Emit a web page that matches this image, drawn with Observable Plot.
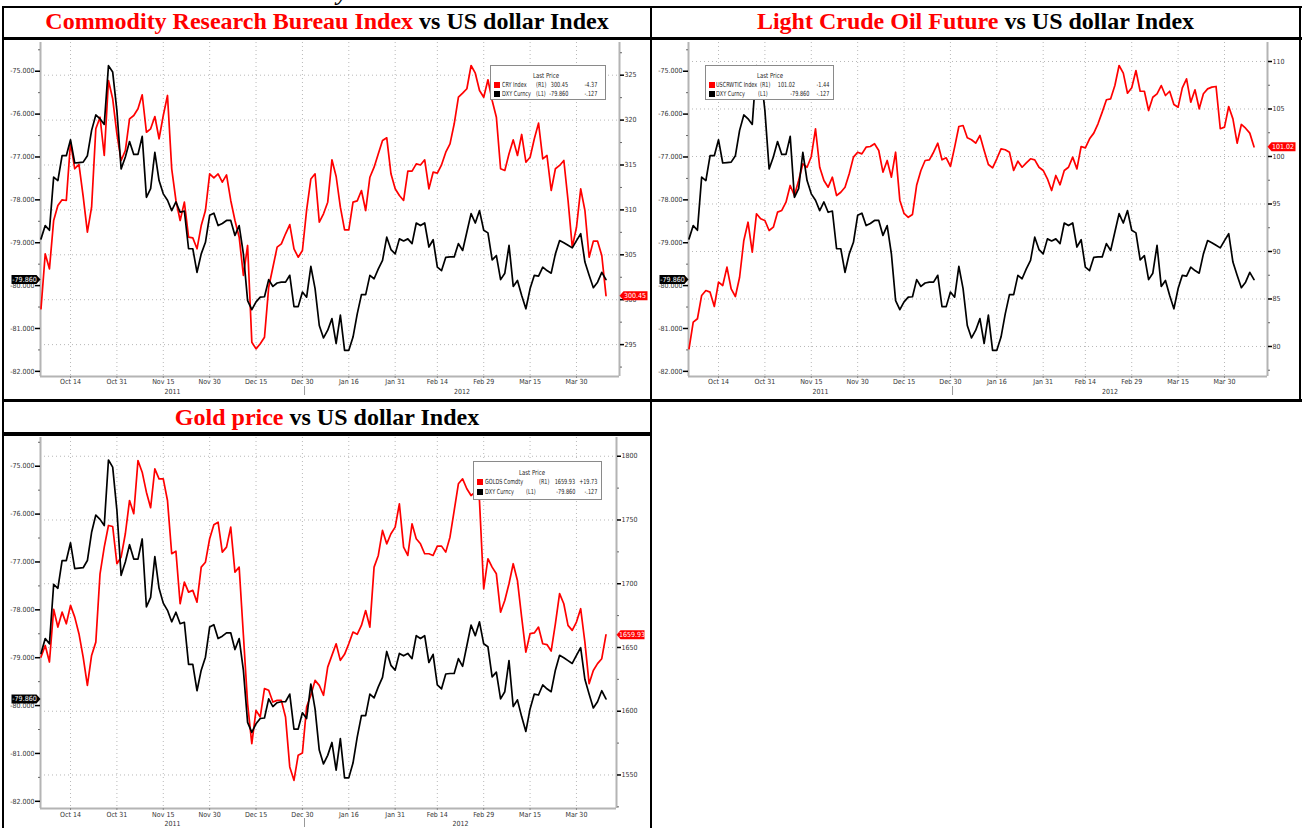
<!DOCTYPE html>
<html><head><meta charset="utf-8">
<script src="https://cdn.jsdelivr.net/npm/d3@7"></script>
<script src="https://cdn.jsdelivr.net/npm/@observablehq/plot@0.6"></script>
<style>
body{margin:0;background:#fff;}
#page{position:relative;width:1305px;height:828px;overflow:hidden;background:#fff;}
.ln{position:absolute;background:#000;}
.title{position:absolute;font-family:"Liberation Serif","Times New Roman",serif;font-weight:bold;font-size:24px;line-height:24px;text-align:center;white-space:nowrap;color:#000;}
.title .r{color:#ff0000;}
.chart{position:absolute;}
.chart svg{overflow:visible;}
.legend{position:absolute;background:#fff;border:1px solid #8a8a8a;box-sizing:border-box;font-family:"Liberation Sans Narrow","DejaVu Sans Condensed",sans-serif;font-size:7px;color:#222;}
.legend span{position:absolute;white-space:nowrap;line-height:8px;}
.legend i{position:absolute;width:6px;height:6px;}
#frag{position:absolute;left:0;top:0;width:1305px;height:6px;overflow:hidden;}
#frag div{position:absolute;left:337px;top:-20px;font-family:"Liberation Serif",serif;font-weight:bold;font-style:italic;font-size:24px;line-height:24px;}
</style></head>
<body>
<div id="page">
  <div id="frag"><div>y</div></div>
  <div class="ln" style="left:2px;top:6px;width:1300px;height:2px"></div>
  <div class="ln" style="left:2px;top:37px;width:1300px;height:3px"></div>
  <div class="ln" style="left:2px;top:399px;width:1300px;height:3px"></div>
  <div class="ln" style="left:2px;top:432px;width:650px;height:4px"></div>
  <div class="ln" style="left:2px;top:6px;width:2px;height:822px"></div>
  <div class="ln" style="left:650px;top:6px;width:2px;height:822px"></div>
  <div class="ln" style="left:1299px;top:6px;width:2px;height:396px"></div>
  <div class="title" style="left:4px;width:646px;top:9px"><span class="r">Commodity Research Bureau Index</span> vs US dollar Index</div>
  <div class="title" style="left:652px;width:647px;top:9px"><span class="r">Light Crude Oil Future</span> vs US dollar Index</div>
  <div class="title" style="left:4px;width:646px;top:405px"><span class="r">Gold price</span> vs US dollar Index</div>
  <div class="chart" id="c1" style="left:4px;top:40px"></div>
  <div class="chart" id="c2" style="left:652px;top:40px"></div>
  <div class="chart" id="c3" style="left:4px;top:436px"></div>
</div>
<script>
// ---- data: DXY (shown negated, left axis), CRY, WTI, Gold (right axes), weekday index 0 = Oct 5 2011
const dxy = [
-78.91,-78.60,-78.71,-77.47,-77.55,-76.97,-76.97,-76.60,-77.14,-77.13,
-77.12,-76.97,-76.38,-76.02,-76.11,-76.24,-74.87,-75.02,-75.92,-77.28,
-77.00,-76.64,-76.94,-76.94,-76.52,-77.94,-77.74,-76.89,-77.55,-77.86,
-78.01,-78.25,-78.05,-78.29,-78.26,-79.14,-79.14,-79.69,-79.26,-78.99,
-78.36,-78.31,-78.60,-78.55,-78.48,-78.48,-78.83,-78.60,-79.26,-80.35,
-80.56,-80.38,-80.27,-80.26,-79.86,-80.02,-79.94,-79.92,-79.92,-79.76,
-80.49,-80.49,-80.15,-80.27,-79.55,-80.07,-80.93,-81.22,-81.04,-80.77,
-81.35,-80.69,-81.51,-81.51,-81.20,-80.66,-80.21,-80.21,-79.76,-79.84,
-79.61,-79.41,-78.87,-79.16,-79.26,-78.91,-78.96,-78.91,-79.02,-78.54,
-78.60,-78.54,-79.10,-78.93,-79.57,-79.65,-79.34,-79.33,-79.33,-79.02,
-79.18,-78.75,-78.32,-78.54,-78.25,-78.71,-78.77,-79.40,-79.30,-79.86,
-79.71,-79.06,-80.02,-79.88,-80.23,-80.54,-80.07,-79.76,-79.78,-79.57,
-79.65,-79.71,-79.26,-78.95,-79.00,-79.06,-79.12,-78.95,-78.79,-79.45,
-79.76,-80.05,-79.92,-79.69,-79.86];
const cry = [
298.99,305.10,303.44,308.82,310.49,311.12,311.05,317.54,314.58,315.06,
311.50,307.52,310.30,319.03,320.32,316.06,324.41,322.37,318.47,315.50,
316.61,320.14,320.51,321.26,322.82,318.65,319.03,320.40,317.92,320.51,
322.74,314.58,311.05,308.82,310.86,306.96,306.89,305.67,308.26,309.93,
314.02,313.57,314.00,313.09,313.90,311.05,308.82,306.96,302.70,306.04,
295.27,294.53,295.09,295.82,301.39,303.62,305.85,306.22,307.34,308.37,
305.67,304.73,305.48,310.00,313.45,314.02,308.63,309.57,310.86,315.58,
313.72,310.30,307.78,307.78,310.86,311.00,312.16,309.93,313.64,314.76,
316.25,317.73,318.03,314.02,312.35,311.60,311.05,314.31,314.31,315.13,
315.00,315.58,312.35,314.20,314.10,315.02,316.43,317.36,319.59,322.55,
323.00,323.49,326.08,325.22,323.30,322.55,324.49,322.18,320.32,314.58,
314.39,316.25,317.80,316.06,318.40,315.31,315.87,317.92,319.66,315.69,
316.06,312.16,314.58,314.95,315.50,311.05,305.85,308.07,312.35,309.93,
304.73,306.52,306.52,304.92,300.45];
const wti = [
79.76,82.56,82.92,85.37,85.89,85.72,84.21,86.77,86.42,88.35,
86.07,85.26,87.29,91.16,93.08,89.93,93.97,93.44,93.26,92.21,
92.56,94.14,94.32,95.19,96.95,95.89,97.47,99.23,98.87,100.00,
102.92,98.87,97.47,96.77,97.82,95.89,96.24,96.77,98.18,99.93,
100.45,100.28,100.98,101.05,101.34,100.63,98.35,99.58,97.82,100.45,
95.40,94.00,93.60,93.90,97.00,98.53,99.58,99.65,100.45,101.40,
99.65,99.86,98.95,100.98,103.16,103.26,101.97,101.76,101.40,102.21,
100.63,99.16,98.81,99.76,100.81,100.71,100.45,98.53,99.51,98.87,
99.33,99.76,99.65,98.87,98.53,97.65,96.42,98.00,97.02,98.53,
98.87,99.93,98.70,101.05,100.91,101.86,102.46,103.44,104.67,105.97,
106.07,107.47,109.58,108.77,106.66,107.23,109.05,106.87,106.87,104.84,
106.24,106.60,107.47,106.42,106.87,105.47,105.19,107.23,108.18,105.72,
107.02,105.02,106.60,107.12,107.30,107.37,102.92,103.09,105.26,103.96,
101.40,103.37,102.98,102.46,101.02];
const gold = [
1642.5,1651.6,1638.6,1680.0,1666.0,1677.7,1668.6,1683.0,1673.8,1660.8,
1642.5,1620.3,1643.8,1654.2,1707.8,1728.7,1745.7,1744.9,1715.7,1720.9,
1739.2,1765.3,1754.9,1796.6,1787.5,1771.8,1759.6,1790.1,1782.3,1782.3,
1765.3,1723.5,1725.5,1684.3,1701.3,1693.4,1694.8,1685.6,1713.0,1716.9,
1735.3,1746.3,1748.3,1724.8,1728.7,1744.4,1709.1,1713.0,1660.0,1606.0,
1574.6,1600.7,1595.5,1617.7,1616.4,1607.2,1608.5,1608.5,1595.5,1556.3,
1545.8,1565.5,1567.2,1603.3,1612.5,1624.2,1620.3,1612.5,1634.6,1643.8,
1652.9,1639.9,1644.6,1652.9,1662.1,1660.3,1667.3,1679.0,1666.0,1713.0,
1722.2,1741.8,1731.3,1739.2,1744.4,1762.7,1728.7,1722.2,1747.0,1735.3,
1731.3,1723.5,1723.5,1722.2,1729.5,1729.5,1724.8,1736.5,1757.4,1778.4,
1782.3,1774.5,1769.2,1771.8,1765.3,1696.0,1719.6,1713.0,1707.8,1677.7,
1686.9,1700.0,1715.7,1702.6,1673.8,1646.4,1660.8,1661.4,1666.0,1652.9,
1652.3,1647.2,1668.6,1692.2,1684.3,1667.3,1663.4,1669.9,1680.4,1654.2,
1621.6,1632.0,1637.3,1641.2,1659.93];

const tickIdx = [7,18,29,40,51,62,73,84,94,105,116,127];
const tickLabels = ["Oct 14","Oct 31","Nov 15","Nov 30","Dec 15","Dec 30","Jan 16","Jan 31","Feb 14","Feb 29","Mar 15","Mar 30"];
const years = ["2011","2012"];
const yearBreak = 62.5;
const leftTicks = [-75,-76,-77,-78,-79,-80,-81,-82];
const cryTicks = [295,300,305,310,315,320,325];
const wtiTicks = [80,85,90,95,100,105,110];
const goldTicks = [1550,1600,1650,1700,1750,1800];

const legends = [
  {box:[490,65,116,35], head:55, rows:[
    {c:"#ff0000", t:[["CRY Index",11.5,"s"],["(R1)",46,"s"],["300.45",78,"e"],["-4.37",107,"e"]]},
    {c:"#000", t:[["DXY Curncy",11.5,"s"],["(L1)",46,"s"],["-79.860",78,"e"],["-.127",107,"e"]]}], ys:[10,18.5,27.5]},
  {box:[705,65,129,35], head:63.5, rows:[
    {c:"#ff0000", t:[["USCRWTIC Index",10.5,"s"],["(R1)",55,"s"],["101.02",90,"e"],["-1.44",124,"e"]]},
    {c:"#000", t:[["DXY Curncy",10.5,"s"],["(L1)",53,"s"],["-79.860",104,"e"],["-.127",124,"e"]]}], ys:[10,18.5,27.5]},
  {box:[473,461,129,39], head:58, rows:[
    {c:"#ff0000", t:[["GOLDS Comdty",11.5,"s"],["(R1)",66,"s"],["1659.93",102,"e"],["+19.73",124.5,"e"]]},
    {c:"#000", t:[["DXY Curncy",12,"s"],["(L1)",53,"s"],["-79.860",102,"e"],["-.127",124,"e"]]}], ys:[10.5,20,30]}
];

const FONT = "'Liberation Sans Narrow','DejaVu Sans Condensed',sans-serif";
const tagLeft = {draw(ctx){ctx.moveTo(0,0);ctx.lineTo(-4,-4.5);ctx.lineTo(-29,-4.5);ctx.lineTo(-29,4.5);ctx.lineTo(-4,4.5);ctx.closePath();}};
const tagRight = {draw(ctx){ctx.moveTo(0,0);ctx.lineTo(4,-4.5);ctx.lineTo(28,-4.5);ctx.lineTo(28,4.5);ctx.lineTo(4,4.5);ctx.closePath();}};

function makeChart(c){
  const xDom = [-0.12, c.xMax];
  const toL = d3.scaleLinear().domain(c.rDomain).range(c.lDomain);
  const pxPerUnit = (c.h - c.mt - c.mb) / (c.lDomain[1] - c.lDomain[0]);
  const bottom = c.lDomain[0];
  const dataL = dxy.map((v,i)=>({i, v}));
  const dataR = c.series.map((v,i)=>({i, v: toL(v)}));
  const step = c.rTicks[1]-c.rTicks[0];
  const minorR = c.rTicks.map(t=>t+step/2).concat([c.rTicks[0]-step/2]).filter(t=>t>c.rDomain[0]&&t<c.rDomain[1]);
  const minorL = leftTicks.map(t=>t+0.5).filter(t=>t<c.lDomain[1]&&t>c.lDomain[0]);
  const lastL = dxy[dxy.length-1];
  const lastR = c.series[c.series.length-1];
  const yearX = [(xDom[0]+yearBreak)/2, (yearBreak+xDom[1])/2];
  return Plot.plot({
    width:c.w, height:c.h, marginLeft:36, marginRight:c.mr, marginTop:c.mt, marginBottom:c.mb,
    x:{domain:xDom, axis:null},
    y:{domain:c.lDomain, axis:null},
    style:{fontFamily:FONT, fontSize:"7px", color:"#333", background:"transparent", overflow:"visible"},
    marks:[
      Plot.ruleX(tickIdx, {stroke:"#b8b8b8", strokeDasharray:"1,3"}),
      Plot.ruleY(c.rTicks.map(toL), {stroke:"#b8b8b8", strokeDasharray:"1,3"}),
      Plot.ruleX([xDom[0]], {stroke:"#b4b4b4", strokeWidth:2}),
      Plot.ruleX([xDom[1]], {stroke:"#b4b4b4", strokeWidth:2}),
      Plot.ruleY([bottom], {stroke:"#b4b4b4", strokeWidth:2}),
      Plot.axisY(leftTicks, {anchor:"left", tickSize:5, tickPadding:1, stroke:"#000", strokeWidth:1.5, tickFormat:d=>d.toFixed(3), label:null}),
      Plot.axisY(minorL, {anchor:"left", tickSize:2, tickFormat:()=>"", stroke:"#666", label:null}),
      Plot.axisY(c.rTicks.map(toL), {anchor:"right", tickSize:4, tickPadding:1, stroke:"#000", strokeWidth:1.5, tickFormat:d=>String(Math.round(toL.invert(d))), label:null}),
      Plot.axisY(minorR.map(toL), {anchor:"right", tickSize:2, tickFormat:()=>"", stroke:"#666", label:null}),
      Plot.axisX(tickIdx, {anchor:"bottom", tickSize:2, tickFormat:()=>"", stroke:"#888", label:null}),
      Plot.text(tickIdx, {x:d=>d, text:(d,i)=>tickLabels[i], frameAnchor:"bottom", dy:c.lblDy, lineAnchor:"middle", fill:"#333"}),
      Plot.text(years, {x:(d,i)=>yearX[i], text:d=>d, frameAnchor:"bottom", dy:c.yrDy, lineAnchor:"middle", fill:"#333"}),
      Plot.ruleX([yearBreak], {y1:bottom-(c.yrDy-5)/pxPerUnit, y2:bottom-(c.yrDy+4)/pxPerUnit, stroke:"#999"}),
      Plot.line(dataR, {x:"i", y:"v", stroke:"#ff0000", strokeWidth:1.7}),
      Plot.line(dataL, {x:"i", y:"v", stroke:"#000", strokeWidth:1.7}),
      Plot.dot([lastL], {x:()=>xDom[0], y:d=>d, symbol:tagLeft, fill:"#000", stroke:"none"}),
      Plot.text([lastL], {x:()=>xDom[0], y:d=>d, text:d=>d.toFixed(3), dx:-16, fill:"#fff", fontSize:7}),
      Plot.dot([lastR], {x:()=>xDom[1], y:d=>toL(d), symbol:tagRight, fill:"#ff0000", stroke:"none"}),
      Plot.text([lastR], {x:()=>xDom[1], y:d=>toL(d), text:d=>d.toFixed(2), dx:15.5, fill:"#fff", fontSize:7})
    ]
  });
}

const cfgs = [
  {id:"c1", series:cry, rDomain:[291.45,328.64], rTicks:cryTicks, lDomain:[-82.12,-74.33], w:646, h:359, mt:2, mb:23, mr:31, xMax:137.2, lblDy:5, yrDy:15},
  {id:"c2", series:wti, rDomain:[76.84,112.0], rTicks:wtiTicks, lDomain:[-82.12,-74.33], w:647, h:359, mt:2, mb:23, mr:32, xMax:137.2, lblDy:5, yrDy:15},
  {id:"c3", series:gold, rDomain:[1523.7,1814.7], rTicks:goldTicks, lDomain:[-82.15,-74.40], w:646, h:392, mt:1, mb:20, mr:34, xMax:136.5, lblDy:6, yrDy:15}
];
for (const c of cfgs) document.getElementById(c.id).appendChild(makeChart(c));

const page = document.getElementById("page");
for (const L of legends){
  const b = document.createElement("div");
  b.className = "legend";
  const [x,y,w,h] = L.box;
  b.style.cssText = `left:${x}px;top:${y}px;width:${w}px;height:${h}px`;
  const hd = document.createElement("span");
  hd.textContent = "Last Price";
  hd.style.cssText = `left:${L.head}px;top:${L.ys[0]-4}px;transform:translateX(-50%) scaleX(0.85)`;
  b.appendChild(hd);
  L.rows.forEach((r,k)=>{
    const yy = L.ys[k+1];
    const sq = document.createElement("i");
    sq.style.cssText = `left:3px;top:${yy-3}px;background:${r.c}`;
    b.appendChild(sq);
    for (const [t,px,a] of r.t){
      const s = document.createElement("span");
      s.textContent = t;
      s.style.cssText = a==="s"
        ? `left:${px-1}px;top:${yy-4}px;transform:scaleX(0.78);transform-origin:0 50%`
        : `right:${w-px-1}px;top:${yy-4}px;transform:scaleX(0.78);transform-origin:100% 50%`;
      b.appendChild(s);
    }
  });
  page.appendChild(b);
}
</script>
</body></html>
